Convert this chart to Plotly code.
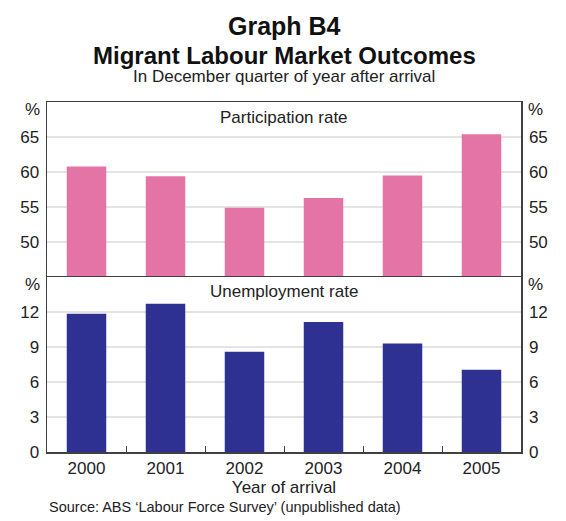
import plotly.graph_objects as go

years = ["2000", "2001", "2002", "2003", "2004", "2005"]
participation = [60.8, 59.4, 54.9, 56.3, 59.5, 65.4]
unemployment = [11.85, 12.7, 8.6, 11.15, 9.3, 7.05]

part_range = [45, 70]
unemp_range = [0, 15]
part_ticks = [50, 55, 60, 65]
unemp_ticks = [0, 3, 6, 9, 12]

FONT = "Liberation Sans, Arial, sans-serif"
FRAME = "#404040"
GRID = "#c8c8c8"
TXT = "#222222"

W, H = 566, 521
L, R, T, B = 47, 45, 102, 69
PW, PH = W - L - R, H - T - B

fig = go.Figure()
fig.add_trace(go.Bar(x=years, y=participation, xaxis="x", yaxis="y",
                     marker_color="#e474a6", marker_line_width=0, width=0.5,
                     hoverinfo="skip"))
fig.add_trace(go.Scatter(x=years, y=participation, xaxis="x", yaxis="y2", mode="markers",
                         marker=dict(opacity=0), hoverinfo="skip"))
fig.add_trace(go.Bar(x=years, y=unemployment, xaxis="x2", yaxis="y3",
                     marker_color="#2e3192", marker_line_width=0, width=0.5,
                     hoverinfo="skip"))
fig.add_trace(go.Scatter(x=years, y=unemployment, xaxis="x2", yaxis="y4", mode="markers",
                         marker=dict(opacity=0), hoverinfo="skip"))

tickfont = dict(family=FONT, size=17, color=TXT)
yax = dict(showline=True, linecolor=FRAME, linewidth=1.5, ticks="",
           ticklabelstandoff=3, automargin=False, tickfont=tickfont,
           zeroline=False, fixedrange=True, showgrid=False)
xax = dict(showline=True, linecolor=FRAME, linewidth=1.5,
           showgrid=False, range=[-0.5, 5.5], automargin=False, domain=[0, 1],
           fixedrange=True, zeroline=False)

fig.update_layout(
    # top panel: only its top frame line (the divider comes from the lower panel)
    xaxis=dict(anchor="y", side="top", mirror=False, ticks="", showticklabels=False, **xax),
    xaxis2=dict(anchor="y3", matches="x", mirror=True, ticks="inside", tickson="boundaries",
                ticklen=6, tickcolor=FRAME, tickwidth=1, tickfont=tickfont,
                title=dict(text="Year of arrival", font=tickfont, standoff=2), **xax),
    yaxis=dict(domain=[0.5, 1], anchor="x", range=part_range, tickvals=part_ticks,
               side="left", **yax),
    yaxis2=dict(overlaying="y", anchor="x", side="right", range=part_range,
                tickvals=part_ticks, **yax),
    yaxis3=dict(domain=[0, 0.5], anchor="x2", range=unemp_range, tickvals=unemp_ticks,
                side="left", **yax),
    yaxis4=dict(overlaying="y3", anchor="x2", side="right", range=unemp_range,
                tickvals=unemp_ticks, **yax),
)

# light horizontal gridlines at the tick values (drawn through the axes' scales)
shapes = []
for v in part_ticks:
    shapes.append(dict(type="line", xref="x domain", yref="y", x0=0, x1=1, y0=v, y1=v,
                       line=dict(color=GRID, width=1), layer="below"))
for v in unemp_ticks[1:]:
    shapes.append(dict(type="line", xref="x2 domain", yref="y3", x0=0, x1=1, y0=v, y1=v,
                       line=dict(color=GRID, width=1), layer="below"))


def px_x(x):
    return (x - L) / PW


def px_y(y):
    return (H - B - y) / PH


annotations = [
    dict(text="<b>Graph B4</b>", x=0.5, y=px_y(26),
         font=dict(family=FONT, size=25, color="#111111")),
    dict(text="<b>Migrant Labour Market Outcomes</b>", x=0.5, y=px_y(56),
         font=dict(family=FONT, size=24, color="#111111")),
    dict(text="In December quarter of year after arrival", x=0.5, y=px_y(76.5),
         font=dict(family=FONT, size=17, color=TXT)),
    dict(text="Source: ABS \u2018Labour Force Survey\u2019 (unpublished data)", x=px_x(47),
         y=px_y(507), xanchor="left", font=dict(family=FONT, size=14.5, color=TXT)),
]
for a in annotations:
    a.update(xref="paper", yref="paper", showarrow=False, yanchor="middle")
    a.setdefault("xanchor", "center")

annotations.append(dict(text="Participation rate", xref="x domain", yref="y domain",
                        x=0.5, y=0.912, showarrow=False, yanchor="middle",
                        font=dict(family=FONT, size=17, color=TXT)))
annotations.append(dict(text="Unemployment rate", xref="x2 domain", yref="y3 domain",
                        x=0.5, y=0.918, showarrow=False, yanchor="middle",
                        font=dict(family=FONT, size=17, color=TXT)))
for yref in ["y domain", "y3 domain"]:
    annotations.append(dict(text="%", xref="paper", yref=yref, x=0, y=0.955,
                            xanchor="right", yanchor="middle", xshift=-5, showarrow=False,
                            font=dict(family=FONT, size=17, color=TXT)))
    annotations.append(dict(text="%", xref="paper", yref=yref, x=1, y=0.955,
                            xanchor="left", yanchor="middle", xshift=5, showarrow=False,
                            font=dict(family=FONT, size=17, color=TXT)))

fig.update_layout(width=W, height=H, margin=dict(l=L, r=R, t=T, b=B, autoexpand=False),
                  paper_bgcolor="white", plot_bgcolor="white", showlegend=False,
                  annotations=annotations, shapes=shapes,
                  font=dict(family=FONT, color=TXT))

fig.write_html("out.html", config={"displayModeBar": False, "staticPlot": True},
               post_script="document.body.style.margin='0';document.body.style.overflow='hidden';")
